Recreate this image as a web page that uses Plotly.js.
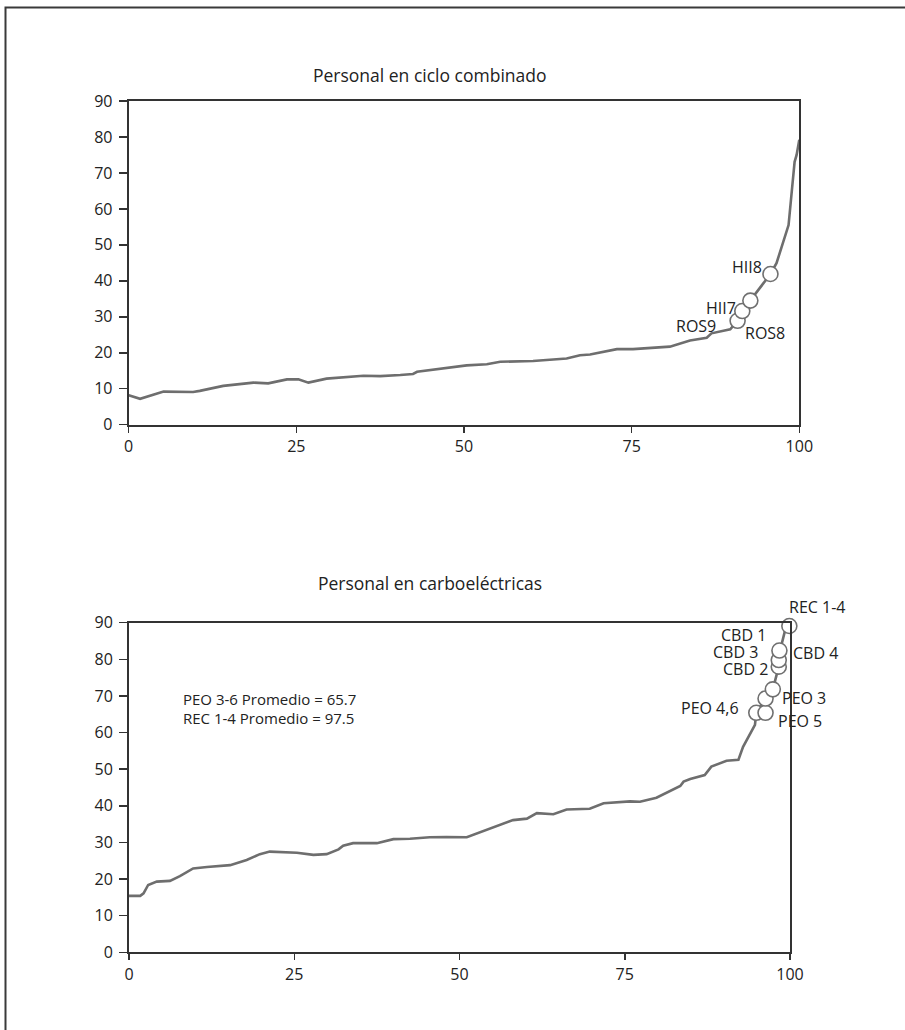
<!DOCTYPE html>
<html>
<head>
<meta charset="utf-8">
<script src="https://cdn.plot.ly/plotly-3.0.1.min.js"></script>
<style>
  html, body { margin: 0; padding: 0; background: #fff; }
  #chart { width: 905px; height: 1030px; }
</style>
</head>
<body>
<div id="chart"></div>
<script>
// ---- Data: Personal en ciclo combinado ----
const ccX = [0, 1.7, 5.2, 9.6, 10.6, 14.1, 18.6, 20.8, 23.6, 25.3, 26.8, 29.5, 35, 37.5, 40.5, 42.4, 43, 50.4, 53.4, 55.4, 60.3, 65.3, 67.3, 68.8, 72.8, 75.2, 80.7, 83.7, 86.2, 86.9, 89.7, 90.8, 91.5, 92.7, 95.7, 96.6, 97.4, 98.4, 98.9, 99.3, 99.6, 100];
const ccY = [8.2, 7.2, 9.2, 9.1, 9.4, 10.8, 11.7, 11.5, 12.6, 12.6, 11.7, 12.8, 13.6, 13.5, 13.8, 14.1, 14.7, 16.5, 16.8, 17.5, 17.7, 18.4, 19.3, 19.5, 21.0, 21.0, 21.7, 23.4, 24.2, 25.4, 26.5, 28.9, 31.6, 34.5, 41.9, 44.9, 49.5, 55.5, 65.3, 73.1, 75.0, 79.2];
const ccMarkX = [90.8, 91.5, 92.7, 95.7];
const ccMarkY = [28.9, 31.6, 34.5, 41.9];
const ccLabels = ["ROS9", "ROS8", "HII7", "HII8"];
const ccLabelPoint = [0, 0, 1, 3];

// ---- Data: Personal en carboeléctricas ----
const cbX = [0, 1.7, 2.2, 2.9, 4.2, 6.2, 7.7, 9.7, 11.8, 15.3, 17.8, 19.8, 21.3, 25.4, 27.9, 29.9, 31.7, 32.4, 33.9, 37.5, 40, 42.5, 45.5, 48, 51.1, 53.1, 55.1, 58.1, 60.2, 61.7, 64.2, 66.2, 69.7, 71.8, 75.8, 77.3, 79.8, 81.8, 83.4, 83.9, 84.9, 87.1, 88.1, 90.4, 92.2, 92.9, 93.7, 94.7, 94.9, 96.3, 97.4, 98.3, 98.4, 98.5, 99.2, 99.9];
const cbY = [15.4, 15.4, 16.1, 18.4, 19.3, 19.5, 20.8, 22.9, 23.3, 23.8, 25.2, 26.8, 27.5, 27.2, 26.6, 26.8, 28.1, 29.1, 29.8, 29.8, 30.9, 31.0, 31.4, 31.5, 31.4, 32.8, 34.0, 36.1, 36.5, 38.0, 37.7, 39.0, 39.2, 40.7, 41.2, 41.1, 42.2, 44.1, 45.4, 46.6, 47.3, 48.4, 50.7, 52.3, 52.6, 56.1, 58.9, 62.1, 65.4, 69.3, 71.8, 78.0, 79.8, 82.4, 87.5, 89.1];
const cbMarkX = [94.9, 96.3, 96.3, 97.4, 98.3, 98.3, 98.4, 99.9];
const cbMarkY = [65.4, 65.4, 69.3, 71.8, 78.0, 79.8, 82.4, 89.1];
const cbLabels = ["PEO 4,6", "PEO 5", "PEO 3", "CBD 2", "CBD 3", "CBD 1", "CBD 4", "REC 1-4"];
const cbLabelPoint = [0, 1, 2, 4, 5, 6, 6, 7];

const titles = ["Personal en ciclo combinado", "Personal en carboeléctricas"];
const noteText = ["PEO 3-6 Promedio = 65.7", "REC 1-4 Promedio = 97.5"];
const noteY = [69.3, 64.1];
const xTicks = [0, 25, 50, 75, 100];
const yTicks = [0, 10, 20, 30, 40, 50, 60, 70, 80, 90];

// ---- Styles ----
const FONT = "Open Sans, Noto Sans, sans-serif";
const TXT = "#222";
const LINEC = "#6e6e6e";
const AXC = "#333";
const LBL = 16;

// label offsets (style), per label: [xanchor, xshift, yshift]
const ccLabelStyle = [["right", -21, -5], ["left", 6, -12], ["right", -5, 3], ["right", -7, 7]];
const cbLabelStyle = [["right", -16, 5], ["left", 11, -8], ["left", 15, 1], ["right", -10, -2], ["right", -20, 8], ["right", -12, 16], ["left", 13, -2], ["left", -1, 19]];

const W = 905, H = 1030;
function px2x(a, b) { return [a / W, b / W]; }
function py2y(top, bottom) { return [(H - bottom) / H, (H - top) / H]; }

function axisX(domain, anchor) {
  return {
    domain: domain, anchor: anchor, range: [0, 100], tickvals: xTicks,
    showgrid: false, zeroline: false, showline: true, mirror: true,
    linecolor: AXC, linewidth: 2, ticks: "outside", ticklen: 6, tickwidth: 1.5, tickcolor: AXC,
    tickfont: { family: FONT, size: 16, color: TXT }, fixedrange: true
  };
}
function axisY(domain, anchor) {
  return {
    domain: domain, anchor: anchor, range: [0, 90], tickvals: yTicks,
    showgrid: false, zeroline: false, showline: true, mirror: true,
    linecolor: AXC, linewidth: 2, ticks: "outside", ticklen: 8, tickwidth: 1.5, tickcolor: AXC,
    ticklabelstandoff: 3,
    tickfont: { family: FONT, size: 16, color: TXT }, fixedrange: true
  };
}

const lineStyle = { color: LINEC, width: 2.6 };
const markStyle = { size: 15, color: "#ffffff", line: { color: "#707070", width: 1.6 } };

const traces = [
  { x: ccX, y: ccY, xaxis: "x", yaxis: "y", mode: "lines", line: lineStyle, hoverinfo: "skip" },
  { x: ccMarkX, y: ccMarkY, xaxis: "x", yaxis: "y", mode: "markers", marker: markStyle, cliponaxis: false, hoverinfo: "skip" },
  { x: cbX, y: cbY, xaxis: "x2", yaxis: "y2", mode: "lines", line: lineStyle, hoverinfo: "skip" },
  { x: cbMarkX, y: cbMarkY, xaxis: "x2", yaxis: "y2", mode: "markers", marker: markStyle, cliponaxis: false, hoverinfo: "skip" }
];

const annotations = [];
ccLabels.forEach((t, i) => {
  const p = ccLabelPoint[i], s = ccLabelStyle[i];
  annotations.push({ xref: "x", yref: "y", x: ccMarkX[p], y: ccMarkY[p], text: t, showarrow: false,
    xanchor: s[0], yanchor: "middle", xshift: s[1], yshift: s[2], borderpad: 0,
    font: { family: FONT, size: LBL, color: TXT } });
});
cbLabels.forEach((t, i) => {
  const p = cbLabelPoint[i], s = cbLabelStyle[i];
  annotations.push({ xref: "x2", yref: "y2", x: cbMarkX[p], y: cbMarkY[p], text: t, showarrow: false,
    xanchor: s[0], yanchor: "middle", xshift: s[1], yshift: s[2], borderpad: 0,
    font: { family: FONT, size: LBL, color: TXT } });
});
noteText.forEach((t, i) => {
  annotations.push({ xref: "x2", yref: "y2", x: 8.0, y: noteY[i], text: t, showarrow: false,
    xanchor: "left", yanchor: "middle", align: "left", borderpad: 0,
    font: { family: FONT, size: 15, color: TXT } });
});
annotations.push({ xref: "paper", yref: "paper", x: 430 / W, y: (H - 75) / H, text: titles[0], showarrow: false,
  xanchor: "center", yanchor: "middle", font: { family: FONT, size: 17.5, color: TXT } });
annotations.push({ xref: "paper", yref: "paper", x: 430 / W, y: (H - 583) / H, text: titles[1], showarrow: false,
  xanchor: "center", yanchor: "middle", font: { family: FONT, size: 17.5, color: TXT } });

const layout = {
  width: W, height: H, showlegend: false,
  margin: { l: 0, r: 0, t: 0, b: 0, pad: 0 },
  paper_bgcolor: "#fff", plot_bgcolor: "#fff",
  xaxis: axisX(px2x(128.7, 799.3), "y"),
  yaxis: axisY(py2y(101, 424.7), "x"),
  xaxis2: axisX(px2x(129, 790), "y2"),
  yaxis2: axisY(py2y(622.7, 952.3), "x2"),
  annotations: annotations,
  shapes: [{ type: "rect", xref: "paper", yref: "paper", x0: 5.5 / W, x1: 1.05, y0: -0.05, y1: (H - 7.5) / H,
    line: { color: "#3a3a3a", width: 2 }, fillcolor: "rgba(0,0,0,0)", layer: "above" }]
};

Plotly.newPlot("chart", traces, layout, { displayModeBar: false, staticPlot: true });
</script>
</body>
</html>
